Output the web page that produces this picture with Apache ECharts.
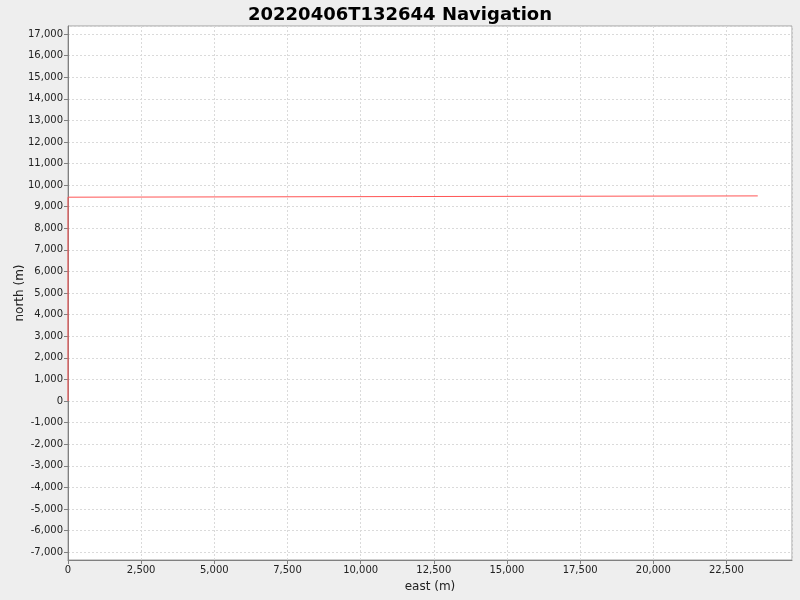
<!DOCTYPE html>
<html>
<head>
<meta charset="utf-8">
<script src="https://cdn.jsdelivr.net/npm/echarts@6/dist/echarts.min.js"></script>
<style>html,body{margin:0;padding:0;background:#eeeeee;}#c{width:800px;height:600px;}</style>
</head>
<body>
<div id="c"></div>
<script>
const titleText = '20220406T132644 Navigation';
const eastValues = [0, 0, 0, 23570];
const northValues = [0, 4700, 9440, 9500];
const xRange = [0, 24740];
const yRange = [-7365, 17370];

const data = eastValues.map((e, i) => [e, northValues[i]]);
const fmt = v => Number(v).toLocaleString('en-US');
const chart = echarts.init(document.getElementById('c'), null, {renderer: 'canvas'});
chart.setOption({
  backgroundColor: '#eeeeee',
  animation: false,
  title: {
    text: titleText, left: 'center', top: 1,
    textStyle: {fontFamily: 'DejaVu Sans', fontWeight: 'bold', fontSize: 18, color: '#000'}
  },
  grid: {left: 68, right: 8, top: 26, bottom: 40, outerBoundsMode: 'none', containLabel: false,
         show: true, backgroundColor: '#ffffff', borderColor: '#a0a0a0', borderWidth: 1},
  xAxis: {
    type: 'value', min: xRange[0], max: xRange[1], minInterval: 2500, maxInterval: 2500, splitNumber: 10,
    name: 'east (m)', nameLocation: 'middle', nameGap: 21, nameMoveOverlap: false,
    nameTextStyle: {fontFamily: 'DejaVu Sans', fontSize: 12, color: '#222'},
    axisLine: {show: true, onZero: false, lineStyle: {color: '#808080'}},
    axisTick: {show: true, length: 4, lineStyle: {color: '#808080'}},
    axisLabel: {fontFamily: 'DejaVu Sans', fontSize: 10, color: '#222', margin: 5, showMaxLabel: false, formatter: fmt},
    splitLine: {show: true, lineStyle: {color: '#dadada', type: [2, 2]}}
  },
  yAxis: {
    type: 'value', min: yRange[0], max: yRange[1], minInterval: 1000, maxInterval: 1000, splitNumber: 25,
    name: 'north (m)', nameLocation: 'middle', nameGap: 42, nameMoveOverlap: false,
    nameTextStyle: {fontFamily: 'DejaVu Sans', fontSize: 12, color: '#222'},
    axisLine: {show: true, onZero: false, lineStyle: {color: '#808080'}},
    axisTick: {show: true, length: 4, lineStyle: {color: '#808080'}},
    axisLabel: {fontFamily: 'DejaVu Sans', fontSize: 10, color: '#222', margin: 5, showMinLabel: false, showMaxLabel: false, formatter: fmt},
    splitLine: {show: true, lineStyle: {color: '#dadada', type: [2, 2]}}
  },
  series: [{
    type: 'line', data: data, showSymbol: false, symbol: 'none',
    lineStyle: {color: '#ff5555', width: 1}, itemStyle: {color: '#ff5555'}
  }]
});
</script>
</body>
</html>
